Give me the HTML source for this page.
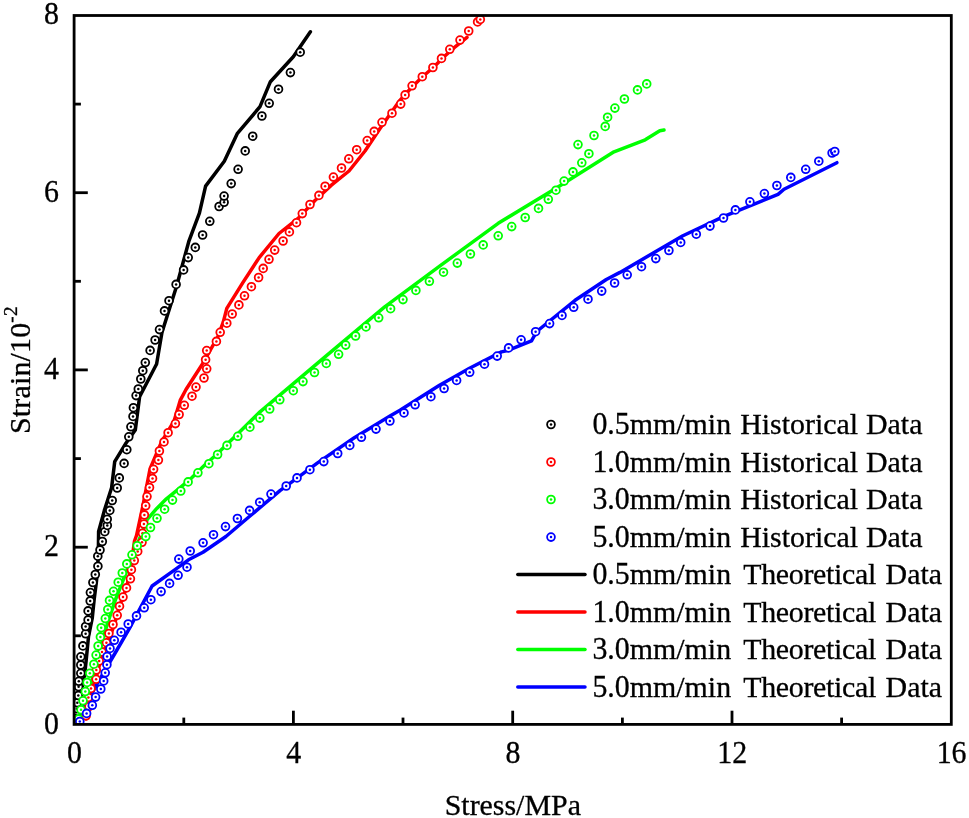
<!DOCTYPE html>
<html><head><meta charset="utf-8"><title>Stress-Strain</title>
<style>
html,body{margin:0;padding:0;background:#fff;}
body{width:969px;height:818px;overflow:hidden;font-family:"Liberation Serif",serif;}
svg{display:block;will-change:transform;}
</style></head><body>
<svg width="969" height="818" viewBox="0 0 969 818">
<rect x="0" y="0" width="969" height="818" fill="#ffffff"/>
<defs><clipPath id="pc"><rect x="74.1" y="15.5" width="877.2" height="708.9"/></clipPath></defs>
<g clip-path="url(#pc)">
<polyline points="76.5,722.0 80.0,700.0 84.8,673.3 86.1,661.1 88.5,636.7 92.3,617.8 94.1,600.0 96.5,581.1 98.3,556.7 98.6,531.5 104.3,510.6 111.6,487.7 114.7,461.7 126.1,443.0 135.3,430.0 139.6,396.7 156.6,364.0 162.0,332.3 176.5,286.5 189.0,240.8 199.4,213.2 205.6,186.1 224.3,161.2 237.2,133.7 260.0,106.7 270.4,81.7 293.3,56.8 310.4,31.8" fill="none" stroke="#000000" stroke-width="3.5" stroke-linejoin="round" stroke-linecap="round"/>
<polyline points="86.0,719.0 89.0,706.0 91.5,688.0 96.2,677.0 100.5,661.1 104.2,651.5 108.5,640.5 114.5,624.4 119.5,606.2 126.5,587.7 130.5,570.0 134.5,541.0 136.5,535.5 142.8,506.4 150.0,469.0 161.5,442.0 174.0,421.2 180.2,400.4 186.0,389.5 201.5,365.5 218.1,336.4 223.3,321.9 226.8,308.4 243.0,282.4 259.2,257.6 279.0,233.5 298.1,218.4 314.7,200.7 331.4,185.1 349.0,171.0 365.0,151.0 380.0,128.5 399.0,101.5 412.0,87.0 422.5,76.8 433.5,67.3 445.4,55.5 454.2,47.6 467.0,37.3" fill="none" stroke="#ff0000" stroke-width="3.5" stroke-linejoin="round" stroke-linecap="round"/>
<polyline points="75.0,723.0 84.0,705.0 92.0,680.0 100.0,650.0 107.0,625.0 115.7,599.0 132.2,557.0 147.3,519.3 156.8,508.4 166.4,498.8 175.0,491.8 189.2,480.2 205.8,464.0 216.0,455.0 236.5,435.0 260.0,411.8 326.5,355.6 384.7,306.8 440.0,265.9 498.2,223.3 556.4,188.0 614.0,151.8 645.2,139.8 659.8,130.7 664.0,130.0" fill="none" stroke="#00ff00" stroke-width="3.5" stroke-linejoin="round" stroke-linecap="round"/>
<polyline points="75.0,724.0 96.4,685.2 116.9,650.0 129.3,628.6 152.1,586.0 174.0,570.4 188.5,559.8 203.0,552.2 225.9,536.5 250.0,516.0 280.0,490.6 297.0,478.1 317.2,463.1 354.3,437.7 390.0,416.0 400.0,410.2 415.0,400.8 439.5,385.2 470.0,368.0 501.5,351.9 508.6,350.2 531.5,340.8 536.7,331.5 575.1,300.3 606.3,279.5 620.0,272.4 682.4,236.0 724.0,216.3 778.0,194.4 784.0,189.2 836.9,162.7" fill="none" stroke="#0000ff" stroke-width="3.5" stroke-linejoin="round" stroke-linecap="round"/>
<g stroke="#000000" stroke-width="1.8" fill="#fff">
<circle cx="75.5" cy="720.0" r="3.9"/>
<circle cx="76.0" cy="715.0" r="3.9"/>
<circle cx="76.8" cy="708.7" r="3.9"/>
<circle cx="77.3" cy="702.8" r="3.9"/>
<circle cx="78.3" cy="695.5" r="3.9"/>
<circle cx="78.6" cy="686.7" r="3.9"/>
<circle cx="78.8" cy="681.3" r="3.9"/>
<circle cx="80.8" cy="673.3" r="3.9"/>
<circle cx="80.8" cy="665.0" r="3.9"/>
<circle cx="80.8" cy="656.8" r="3.9"/>
<circle cx="82.9" cy="645.9" r="3.9"/>
<circle cx="85.6" cy="633.8" r="3.9"/>
<circle cx="85.6" cy="626.5" r="3.9"/>
<circle cx="88.1" cy="619.9" r="3.9"/>
<circle cx="88.1" cy="610.9" r="3.9"/>
<circle cx="90.2" cy="601.0" r="3.9"/>
<circle cx="90.4" cy="592.6" r="3.9"/>
<circle cx="92.9" cy="582.5" r="3.9"/>
<circle cx="95.3" cy="574.5" r="3.9"/>
<circle cx="97.9" cy="566.2" r="3.9"/>
<circle cx="97.8" cy="556.2" r="3.9"/>
<circle cx="100.0" cy="550.0" r="3.9"/>
<circle cx="102.3" cy="541.5" r="3.9"/>
<circle cx="104.8" cy="531.7" r="3.9"/>
<circle cx="107.3" cy="525.4" r="3.9"/>
<circle cx="107.2" cy="519.2" r="3.9"/>
<circle cx="109.8" cy="510.4" r="3.9"/>
<circle cx="112.2" cy="500.5" r="3.9"/>
<circle cx="117.2" cy="488.0" r="3.9"/>
<circle cx="119.3" cy="477.9" r="3.9"/>
<circle cx="124.1" cy="463.4" r="3.9"/>
<circle cx="126.8" cy="449.7" r="3.9"/>
<circle cx="128.8" cy="436.8" r="3.9"/>
<circle cx="130.9" cy="426.8" r="3.9"/>
<circle cx="133.0" cy="416.4" r="3.9"/>
<circle cx="133.4" cy="407.7" r="3.9"/>
<circle cx="136.1" cy="395.6" r="3.9"/>
<circle cx="138.3" cy="389.0" r="3.9"/>
<circle cx="140.8" cy="379.0" r="3.9"/>
<circle cx="142.8" cy="370.7" r="3.9"/>
<circle cx="145.3" cy="362.6" r="3.9"/>
<circle cx="150.1" cy="350.4" r="3.9"/>
<circle cx="155.1" cy="340.0" r="3.9"/>
<circle cx="159.5" cy="329.6" r="3.9"/>
<circle cx="164.5" cy="310.9" r="3.9"/>
<circle cx="169.0" cy="300.7" r="3.9"/>
<circle cx="176.1" cy="284.4" r="3.9"/>
<circle cx="183.6" cy="269.9" r="3.9"/>
<circle cx="188.2" cy="257.6" r="3.9"/>
<circle cx="195.3" cy="247.4" r="3.9"/>
<circle cx="202.6" cy="235.0" r="3.9"/>
<circle cx="209.8" cy="221.3" r="3.9"/>
<circle cx="219.1" cy="206.5" r="3.9"/>
<circle cx="224.1" cy="202.3" r="3.9"/>
<circle cx="224.1" cy="196.1" r="3.9"/>
<circle cx="231.2" cy="183.6" r="3.9"/>
<circle cx="238.1" cy="169.3" r="3.9"/>
<circle cx="245.2" cy="150.9" r="3.9"/>
<circle cx="252.7" cy="136.2" r="3.9"/>
<circle cx="261.9" cy="116.0" r="3.9"/>
<circle cx="269.2" cy="103.3" r="3.9"/>
<circle cx="278.5" cy="89.2" r="3.9"/>
<circle cx="290.4" cy="72.6" r="3.9"/>
<circle cx="300.2" cy="52.2" r="3.9"/>
</g>
<g fill="#000000">
<circle cx="75.5" cy="720.0" r="1.25"/>
<circle cx="76.0" cy="715.0" r="1.25"/>
<circle cx="76.8" cy="708.7" r="1.25"/>
<circle cx="77.3" cy="702.8" r="1.25"/>
<circle cx="78.3" cy="695.5" r="1.25"/>
<circle cx="78.6" cy="686.7" r="1.25"/>
<circle cx="78.8" cy="681.3" r="1.25"/>
<circle cx="80.8" cy="673.3" r="1.25"/>
<circle cx="80.8" cy="665.0" r="1.25"/>
<circle cx="80.8" cy="656.8" r="1.25"/>
<circle cx="82.9" cy="645.9" r="1.25"/>
<circle cx="85.6" cy="633.8" r="1.25"/>
<circle cx="85.6" cy="626.5" r="1.25"/>
<circle cx="88.1" cy="619.9" r="1.25"/>
<circle cx="88.1" cy="610.9" r="1.25"/>
<circle cx="90.2" cy="601.0" r="1.25"/>
<circle cx="90.4" cy="592.6" r="1.25"/>
<circle cx="92.9" cy="582.5" r="1.25"/>
<circle cx="95.3" cy="574.5" r="1.25"/>
<circle cx="97.9" cy="566.2" r="1.25"/>
<circle cx="97.8" cy="556.2" r="1.25"/>
<circle cx="100.0" cy="550.0" r="1.25"/>
<circle cx="102.3" cy="541.5" r="1.25"/>
<circle cx="104.8" cy="531.7" r="1.25"/>
<circle cx="107.3" cy="525.4" r="1.25"/>
<circle cx="107.2" cy="519.2" r="1.25"/>
<circle cx="109.8" cy="510.4" r="1.25"/>
<circle cx="112.2" cy="500.5" r="1.25"/>
<circle cx="117.2" cy="488.0" r="1.25"/>
<circle cx="119.3" cy="477.9" r="1.25"/>
<circle cx="124.1" cy="463.4" r="1.25"/>
<circle cx="126.8" cy="449.7" r="1.25"/>
<circle cx="128.8" cy="436.8" r="1.25"/>
<circle cx="130.9" cy="426.8" r="1.25"/>
<circle cx="133.0" cy="416.4" r="1.25"/>
<circle cx="133.4" cy="407.7" r="1.25"/>
<circle cx="136.1" cy="395.6" r="1.25"/>
<circle cx="138.3" cy="389.0" r="1.25"/>
<circle cx="140.8" cy="379.0" r="1.25"/>
<circle cx="142.8" cy="370.7" r="1.25"/>
<circle cx="145.3" cy="362.6" r="1.25"/>
<circle cx="150.1" cy="350.4" r="1.25"/>
<circle cx="155.1" cy="340.0" r="1.25"/>
<circle cx="159.5" cy="329.6" r="1.25"/>
<circle cx="164.5" cy="310.9" r="1.25"/>
<circle cx="169.0" cy="300.7" r="1.25"/>
<circle cx="176.1" cy="284.4" r="1.25"/>
<circle cx="183.6" cy="269.9" r="1.25"/>
<circle cx="188.2" cy="257.6" r="1.25"/>
<circle cx="195.3" cy="247.4" r="1.25"/>
<circle cx="202.6" cy="235.0" r="1.25"/>
<circle cx="209.8" cy="221.3" r="1.25"/>
<circle cx="219.1" cy="206.5" r="1.25"/>
<circle cx="224.1" cy="202.3" r="1.25"/>
<circle cx="224.1" cy="196.1" r="1.25"/>
<circle cx="231.2" cy="183.6" r="1.25"/>
<circle cx="238.1" cy="169.3" r="1.25"/>
<circle cx="245.2" cy="150.9" r="1.25"/>
<circle cx="252.7" cy="136.2" r="1.25"/>
<circle cx="261.9" cy="116.0" r="1.25"/>
<circle cx="269.2" cy="103.3" r="1.25"/>
<circle cx="278.5" cy="89.2" r="1.25"/>
<circle cx="290.4" cy="72.6" r="1.25"/>
<circle cx="300.2" cy="52.2" r="1.25"/>
</g>
<g stroke="#ff0000" stroke-width="1.8" fill="#fff">
<circle cx="86.1" cy="715.8" r="3.9"/>
<circle cx="89.0" cy="706.6" r="3.9"/>
<circle cx="88.4" cy="697.5" r="3.9"/>
<circle cx="91.0" cy="688.4" r="3.9"/>
<circle cx="96.1" cy="679.2" r="3.9"/>
<circle cx="96.3" cy="670.1" r="3.9"/>
<circle cx="99.2" cy="661.0" r="3.9"/>
<circle cx="102.0" cy="651.9" r="3.9"/>
<circle cx="106.4" cy="642.7" r="3.9"/>
<circle cx="108.9" cy="633.6" r="3.9"/>
<circle cx="113.0" cy="624.5" r="3.9"/>
<circle cx="117.2" cy="615.3" r="3.9"/>
<circle cx="119.5" cy="606.2" r="3.9"/>
<circle cx="123.0" cy="597.1" r="3.9"/>
<circle cx="126.5" cy="587.9" r="3.9"/>
<circle cx="130.4" cy="578.8" r="3.9"/>
<circle cx="131.4" cy="569.7" r="3.9"/>
<circle cx="134.3" cy="560.6" r="3.9"/>
<circle cx="137.7" cy="551.4" r="3.9"/>
<circle cx="142.0" cy="542.3" r="3.9"/>
<circle cx="142.5" cy="533.2" r="3.9"/>
<circle cx="143.9" cy="524.0" r="3.9"/>
<circle cx="144.4" cy="514.9" r="3.9"/>
<circle cx="145.7" cy="505.8" r="3.9"/>
<circle cx="147.0" cy="496.6" r="3.9"/>
<circle cx="149.5" cy="487.5" r="3.9"/>
<circle cx="152.5" cy="478.4" r="3.9"/>
<circle cx="153.6" cy="469.3" r="3.9"/>
<circle cx="158.4" cy="460.1" r="3.9"/>
<circle cx="159.4" cy="451.0" r="3.9"/>
<circle cx="164.0" cy="441.9" r="3.9"/>
<circle cx="168.1" cy="432.7" r="3.9"/>
<circle cx="175.4" cy="423.6" r="3.9"/>
<circle cx="179.1" cy="414.5" r="3.9"/>
<circle cx="184.3" cy="405.3" r="3.9"/>
<circle cx="192.0" cy="396.2" r="3.9"/>
<circle cx="196.0" cy="387.1" r="3.9"/>
<circle cx="204.0" cy="378.0" r="3.9"/>
<circle cx="206.7" cy="368.8" r="3.9"/>
<circle cx="205.6" cy="359.7" r="3.9"/>
<circle cx="206.7" cy="350.6" r="3.9"/>
<circle cx="216.4" cy="341.4" r="3.9"/>
<circle cx="220.2" cy="332.3" r="3.9"/>
<circle cx="226.8" cy="323.2" r="3.9"/>
<circle cx="232.2" cy="314.0" r="3.9"/>
<circle cx="238.9" cy="304.9" r="3.9"/>
<circle cx="244.5" cy="295.8" r="3.9"/>
<circle cx="251.4" cy="286.7" r="3.9"/>
<circle cx="258.6" cy="277.5" r="3.9"/>
<circle cx="263.2" cy="268.4" r="3.9"/>
<circle cx="269.0" cy="259.3" r="3.9"/>
<circle cx="274.7" cy="250.1" r="3.9"/>
<circle cx="283.1" cy="241.0" r="3.9"/>
<circle cx="289.4" cy="231.9" r="3.9"/>
<circle cx="296.5" cy="222.7" r="3.9"/>
<circle cx="302.3" cy="213.6" r="3.9"/>
<circle cx="310.0" cy="204.5" r="3.9"/>
<circle cx="318.9" cy="195.4" r="3.9"/>
<circle cx="325.1" cy="186.2" r="3.9"/>
<circle cx="333.4" cy="177.1" r="3.9"/>
<circle cx="341.5" cy="168.0" r="3.9"/>
<circle cx="348.8" cy="158.8" r="3.9"/>
<circle cx="356.7" cy="149.7" r="3.9"/>
<circle cx="367.2" cy="140.6" r="3.9"/>
<circle cx="374.2" cy="131.4" r="3.9"/>
<circle cx="382.0" cy="122.3" r="3.9"/>
<circle cx="392.0" cy="113.2" r="3.9"/>
<circle cx="400.7" cy="104.1" r="3.9"/>
<circle cx="405.1" cy="94.9" r="3.9"/>
<circle cx="412.1" cy="85.8" r="3.9"/>
<circle cx="422.3" cy="76.7" r="3.9"/>
<circle cx="432.9" cy="67.5" r="3.9"/>
<circle cx="441.5" cy="58.4" r="3.9"/>
<circle cx="449.8" cy="49.3" r="3.9"/>
<circle cx="460.0" cy="40.1" r="3.9"/>
<circle cx="468.7" cy="31.0" r="3.9"/>
<circle cx="477.6" cy="21.9" r="3.9"/>
<circle cx="480.3" cy="19.4" r="3.9"/>
</g>
<g fill="#ff0000">
<circle cx="86.1" cy="715.8" r="1.25"/>
<circle cx="89.0" cy="706.6" r="1.25"/>
<circle cx="88.4" cy="697.5" r="1.25"/>
<circle cx="91.0" cy="688.4" r="1.25"/>
<circle cx="96.1" cy="679.2" r="1.25"/>
<circle cx="96.3" cy="670.1" r="1.25"/>
<circle cx="99.2" cy="661.0" r="1.25"/>
<circle cx="102.0" cy="651.9" r="1.25"/>
<circle cx="106.4" cy="642.7" r="1.25"/>
<circle cx="108.9" cy="633.6" r="1.25"/>
<circle cx="113.0" cy="624.5" r="1.25"/>
<circle cx="117.2" cy="615.3" r="1.25"/>
<circle cx="119.5" cy="606.2" r="1.25"/>
<circle cx="123.0" cy="597.1" r="1.25"/>
<circle cx="126.5" cy="587.9" r="1.25"/>
<circle cx="130.4" cy="578.8" r="1.25"/>
<circle cx="131.4" cy="569.7" r="1.25"/>
<circle cx="134.3" cy="560.6" r="1.25"/>
<circle cx="137.7" cy="551.4" r="1.25"/>
<circle cx="142.0" cy="542.3" r="1.25"/>
<circle cx="142.5" cy="533.2" r="1.25"/>
<circle cx="143.9" cy="524.0" r="1.25"/>
<circle cx="144.4" cy="514.9" r="1.25"/>
<circle cx="145.7" cy="505.8" r="1.25"/>
<circle cx="147.0" cy="496.6" r="1.25"/>
<circle cx="149.5" cy="487.5" r="1.25"/>
<circle cx="152.5" cy="478.4" r="1.25"/>
<circle cx="153.6" cy="469.3" r="1.25"/>
<circle cx="158.4" cy="460.1" r="1.25"/>
<circle cx="159.4" cy="451.0" r="1.25"/>
<circle cx="164.0" cy="441.9" r="1.25"/>
<circle cx="168.1" cy="432.7" r="1.25"/>
<circle cx="175.4" cy="423.6" r="1.25"/>
<circle cx="179.1" cy="414.5" r="1.25"/>
<circle cx="184.3" cy="405.3" r="1.25"/>
<circle cx="192.0" cy="396.2" r="1.25"/>
<circle cx="196.0" cy="387.1" r="1.25"/>
<circle cx="204.0" cy="378.0" r="1.25"/>
<circle cx="206.7" cy="368.8" r="1.25"/>
<circle cx="205.6" cy="359.7" r="1.25"/>
<circle cx="206.7" cy="350.6" r="1.25"/>
<circle cx="216.4" cy="341.4" r="1.25"/>
<circle cx="220.2" cy="332.3" r="1.25"/>
<circle cx="226.8" cy="323.2" r="1.25"/>
<circle cx="232.2" cy="314.0" r="1.25"/>
<circle cx="238.9" cy="304.9" r="1.25"/>
<circle cx="244.5" cy="295.8" r="1.25"/>
<circle cx="251.4" cy="286.7" r="1.25"/>
<circle cx="258.6" cy="277.5" r="1.25"/>
<circle cx="263.2" cy="268.4" r="1.25"/>
<circle cx="269.0" cy="259.3" r="1.25"/>
<circle cx="274.7" cy="250.1" r="1.25"/>
<circle cx="283.1" cy="241.0" r="1.25"/>
<circle cx="289.4" cy="231.9" r="1.25"/>
<circle cx="296.5" cy="222.7" r="1.25"/>
<circle cx="302.3" cy="213.6" r="1.25"/>
<circle cx="310.0" cy="204.5" r="1.25"/>
<circle cx="318.9" cy="195.4" r="1.25"/>
<circle cx="325.1" cy="186.2" r="1.25"/>
<circle cx="333.4" cy="177.1" r="1.25"/>
<circle cx="341.5" cy="168.0" r="1.25"/>
<circle cx="348.8" cy="158.8" r="1.25"/>
<circle cx="356.7" cy="149.7" r="1.25"/>
<circle cx="367.2" cy="140.6" r="1.25"/>
<circle cx="374.2" cy="131.4" r="1.25"/>
<circle cx="382.0" cy="122.3" r="1.25"/>
<circle cx="392.0" cy="113.2" r="1.25"/>
<circle cx="400.7" cy="104.1" r="1.25"/>
<circle cx="405.1" cy="94.9" r="1.25"/>
<circle cx="412.1" cy="85.8" r="1.25"/>
<circle cx="422.3" cy="76.7" r="1.25"/>
<circle cx="432.9" cy="67.5" r="1.25"/>
<circle cx="441.5" cy="58.4" r="1.25"/>
<circle cx="449.8" cy="49.3" r="1.25"/>
<circle cx="460.0" cy="40.1" r="1.25"/>
<circle cx="468.7" cy="31.0" r="1.25"/>
<circle cx="477.6" cy="21.9" r="1.25"/>
<circle cx="480.3" cy="19.4" r="1.25"/>
</g>
<g stroke="#00ff00" stroke-width="1.8" fill="#fff">
<circle cx="78.5" cy="718.9" r="3.9"/>
<circle cx="81.0" cy="709.8" r="3.9"/>
<circle cx="83.0" cy="700.7" r="3.9"/>
<circle cx="85.3" cy="691.6" r="3.9"/>
<circle cx="87.1" cy="682.4" r="3.9"/>
<circle cx="89.8" cy="673.3" r="3.9"/>
<circle cx="93.9" cy="664.2" r="3.9"/>
<circle cx="96.1" cy="655.1" r="3.9"/>
<circle cx="98.1" cy="646.0" r="3.9"/>
<circle cx="100.4" cy="636.9" r="3.9"/>
<circle cx="101.2" cy="627.7" r="3.9"/>
<circle cx="105.3" cy="618.6" r="3.9"/>
<circle cx="107.8" cy="609.5" r="3.9"/>
<circle cx="109.5" cy="600.4" r="3.9"/>
<circle cx="113.5" cy="591.3" r="3.9"/>
<circle cx="118.2" cy="582.2" r="3.9"/>
<circle cx="122.3" cy="573.0" r="3.9"/>
<circle cx="126.8" cy="563.9" r="3.9"/>
<circle cx="132.0" cy="554.8" r="3.9"/>
<circle cx="137.2" cy="545.7" r="3.9"/>
<circle cx="145.8" cy="536.6" r="3.9"/>
<circle cx="150.5" cy="527.5" r="3.9"/>
<circle cx="157.0" cy="518.3" r="3.9"/>
<circle cx="164.6" cy="509.2" r="3.9"/>
<circle cx="172.5" cy="500.1" r="3.9"/>
<circle cx="180.8" cy="491.0" r="3.9"/>
<circle cx="188.1" cy="481.9" r="3.9"/>
<circle cx="197.9" cy="472.8" r="3.9"/>
<circle cx="208.9" cy="463.7" r="3.9"/>
<circle cx="217.6" cy="454.5" r="3.9"/>
<circle cx="227.0" cy="445.4" r="3.9"/>
<circle cx="237.8" cy="436.3" r="3.9"/>
<circle cx="249.9" cy="427.2" r="3.9"/>
<circle cx="259.8" cy="418.1" r="3.9"/>
<circle cx="269.7" cy="409.0" r="3.9"/>
<circle cx="279.8" cy="399.8" r="3.9"/>
<circle cx="293.3" cy="390.7" r="3.9"/>
<circle cx="303.0" cy="381.6" r="3.9"/>
<circle cx="314.5" cy="372.5" r="3.9"/>
<circle cx="326.3" cy="363.4" r="3.9"/>
<circle cx="338.6" cy="354.3" r="3.9"/>
<circle cx="345.7" cy="345.1" r="3.9"/>
<circle cx="355.6" cy="336.0" r="3.9"/>
<circle cx="366.0" cy="326.9" r="3.9"/>
<circle cx="378.7" cy="317.8" r="3.9"/>
<circle cx="390.6" cy="308.7" r="3.9"/>
<circle cx="403.0" cy="299.6" r="3.9"/>
<circle cx="415.9" cy="290.4" r="3.9"/>
<circle cx="429.4" cy="281.3" r="3.9"/>
<circle cx="443.5" cy="272.2" r="3.9"/>
<circle cx="457.3" cy="263.1" r="3.9"/>
<circle cx="470.4" cy="254.0" r="3.9"/>
<circle cx="483.2" cy="244.9" r="3.9"/>
<circle cx="498.2" cy="235.8" r="3.9"/>
<circle cx="511.7" cy="226.6" r="3.9"/>
<circle cx="525.2" cy="217.5" r="3.9"/>
<circle cx="538.5" cy="208.4" r="3.9"/>
<circle cx="548.3" cy="199.3" r="3.9"/>
<circle cx="556.0" cy="190.2" r="3.9"/>
<circle cx="564.1" cy="181.1" r="3.9"/>
<circle cx="573.0" cy="171.9" r="3.9"/>
<circle cx="581.8" cy="162.8" r="3.9"/>
<circle cx="588.9" cy="153.7" r="3.9"/>
<circle cx="578.0" cy="144.6" r="3.9"/>
<circle cx="594.0" cy="135.5" r="3.9"/>
<circle cx="605.2" cy="126.4" r="3.9"/>
<circle cx="607.6" cy="117.2" r="3.9"/>
<circle cx="614.9" cy="108.1" r="3.9"/>
<circle cx="624.4" cy="99.0" r="3.9"/>
<circle cx="637.5" cy="89.9" r="3.9"/>
<circle cx="646.7" cy="83.9" r="3.9"/>
</g>
<g fill="#00ff00">
<circle cx="78.5" cy="718.9" r="1.25"/>
<circle cx="81.0" cy="709.8" r="1.25"/>
<circle cx="83.0" cy="700.7" r="1.25"/>
<circle cx="85.3" cy="691.6" r="1.25"/>
<circle cx="87.1" cy="682.4" r="1.25"/>
<circle cx="89.8" cy="673.3" r="1.25"/>
<circle cx="93.9" cy="664.2" r="1.25"/>
<circle cx="96.1" cy="655.1" r="1.25"/>
<circle cx="98.1" cy="646.0" r="1.25"/>
<circle cx="100.4" cy="636.9" r="1.25"/>
<circle cx="101.2" cy="627.7" r="1.25"/>
<circle cx="105.3" cy="618.6" r="1.25"/>
<circle cx="107.8" cy="609.5" r="1.25"/>
<circle cx="109.5" cy="600.4" r="1.25"/>
<circle cx="113.5" cy="591.3" r="1.25"/>
<circle cx="118.2" cy="582.2" r="1.25"/>
<circle cx="122.3" cy="573.0" r="1.25"/>
<circle cx="126.8" cy="563.9" r="1.25"/>
<circle cx="132.0" cy="554.8" r="1.25"/>
<circle cx="137.2" cy="545.7" r="1.25"/>
<circle cx="145.8" cy="536.6" r="1.25"/>
<circle cx="150.5" cy="527.5" r="1.25"/>
<circle cx="157.0" cy="518.3" r="1.25"/>
<circle cx="164.6" cy="509.2" r="1.25"/>
<circle cx="172.5" cy="500.1" r="1.25"/>
<circle cx="180.8" cy="491.0" r="1.25"/>
<circle cx="188.1" cy="481.9" r="1.25"/>
<circle cx="197.9" cy="472.8" r="1.25"/>
<circle cx="208.9" cy="463.7" r="1.25"/>
<circle cx="217.6" cy="454.5" r="1.25"/>
<circle cx="227.0" cy="445.4" r="1.25"/>
<circle cx="237.8" cy="436.3" r="1.25"/>
<circle cx="249.9" cy="427.2" r="1.25"/>
<circle cx="259.8" cy="418.1" r="1.25"/>
<circle cx="269.7" cy="409.0" r="1.25"/>
<circle cx="279.8" cy="399.8" r="1.25"/>
<circle cx="293.3" cy="390.7" r="1.25"/>
<circle cx="303.0" cy="381.6" r="1.25"/>
<circle cx="314.5" cy="372.5" r="1.25"/>
<circle cx="326.3" cy="363.4" r="1.25"/>
<circle cx="338.6" cy="354.3" r="1.25"/>
<circle cx="345.7" cy="345.1" r="1.25"/>
<circle cx="355.6" cy="336.0" r="1.25"/>
<circle cx="366.0" cy="326.9" r="1.25"/>
<circle cx="378.7" cy="317.8" r="1.25"/>
<circle cx="390.6" cy="308.7" r="1.25"/>
<circle cx="403.0" cy="299.6" r="1.25"/>
<circle cx="415.9" cy="290.4" r="1.25"/>
<circle cx="429.4" cy="281.3" r="1.25"/>
<circle cx="443.5" cy="272.2" r="1.25"/>
<circle cx="457.3" cy="263.1" r="1.25"/>
<circle cx="470.4" cy="254.0" r="1.25"/>
<circle cx="483.2" cy="244.9" r="1.25"/>
<circle cx="498.2" cy="235.8" r="1.25"/>
<circle cx="511.7" cy="226.6" r="1.25"/>
<circle cx="525.2" cy="217.5" r="1.25"/>
<circle cx="538.5" cy="208.4" r="1.25"/>
<circle cx="548.3" cy="199.3" r="1.25"/>
<circle cx="556.0" cy="190.2" r="1.25"/>
<circle cx="564.1" cy="181.1" r="1.25"/>
<circle cx="573.0" cy="171.9" r="1.25"/>
<circle cx="581.8" cy="162.8" r="1.25"/>
<circle cx="588.9" cy="153.7" r="1.25"/>
<circle cx="578.0" cy="144.6" r="1.25"/>
<circle cx="594.0" cy="135.5" r="1.25"/>
<circle cx="605.2" cy="126.4" r="1.25"/>
<circle cx="607.6" cy="117.2" r="1.25"/>
<circle cx="614.9" cy="108.1" r="1.25"/>
<circle cx="624.4" cy="99.0" r="1.25"/>
<circle cx="637.5" cy="89.9" r="1.25"/>
<circle cx="646.7" cy="83.9" r="1.25"/>
</g>
<g stroke="#0000ff" stroke-width="1.8" fill="#fff">
<circle cx="79.8" cy="721.5" r="3.9"/>
<circle cx="86.6" cy="713.4" r="3.9"/>
<circle cx="92.3" cy="705.3" r="3.9"/>
<circle cx="95.6" cy="697.1" r="3.9"/>
<circle cx="100.8" cy="689.0" r="3.9"/>
<circle cx="103.7" cy="680.9" r="3.9"/>
<circle cx="105.2" cy="672.8" r="3.9"/>
<circle cx="106.9" cy="664.7" r="3.9"/>
<circle cx="107.1" cy="656.5" r="3.9"/>
<circle cx="110.0" cy="648.4" r="3.9"/>
<circle cx="114.3" cy="640.3" r="3.9"/>
<circle cx="121.1" cy="632.2" r="3.9"/>
<circle cx="128.2" cy="624.0" r="3.9"/>
<circle cx="136.5" cy="615.9" r="3.9"/>
<circle cx="144.2" cy="607.8" r="3.9"/>
<circle cx="150.9" cy="599.7" r="3.9"/>
<circle cx="161.1" cy="591.6" r="3.9"/>
<circle cx="169.6" cy="583.4" r="3.9"/>
<circle cx="178.1" cy="575.3" r="3.9"/>
<circle cx="187.0" cy="567.2" r="3.9"/>
<circle cx="178.8" cy="559.1" r="3.9"/>
<circle cx="190.2" cy="551.0" r="3.9"/>
<circle cx="203.1" cy="542.8" r="3.9"/>
<circle cx="213.5" cy="534.7" r="3.9"/>
<circle cx="225.5" cy="526.6" r="3.9"/>
<circle cx="237.4" cy="518.5" r="3.9"/>
<circle cx="249.6" cy="510.4" r="3.9"/>
<circle cx="259.7" cy="502.2" r="3.9"/>
<circle cx="271.0" cy="494.1" r="3.9"/>
<circle cx="286.2" cy="486.0" r="3.9"/>
<circle cx="297.0" cy="477.9" r="3.9"/>
<circle cx="309.9" cy="469.7" r="3.9"/>
<circle cx="323.8" cy="461.6" r="3.9"/>
<circle cx="337.7" cy="453.5" r="3.9"/>
<circle cx="349.8" cy="445.4" r="3.9"/>
<circle cx="361.4" cy="437.3" r="3.9"/>
<circle cx="376.0" cy="429.1" r="3.9"/>
<circle cx="389.9" cy="421.0" r="3.9"/>
<circle cx="404.0" cy="412.9" r="3.9"/>
<circle cx="415.1" cy="404.8" r="3.9"/>
<circle cx="430.9" cy="396.7" r="3.9"/>
<circle cx="444.1" cy="388.5" r="3.9"/>
<circle cx="456.6" cy="380.4" r="3.9"/>
<circle cx="469.7" cy="372.3" r="3.9"/>
<circle cx="484.5" cy="364.2" r="3.9"/>
<circle cx="497.2" cy="356.1" r="3.9"/>
<circle cx="508.6" cy="347.9" r="3.9"/>
<circle cx="521.1" cy="339.8" r="3.9"/>
<circle cx="535.6" cy="331.7" r="3.9"/>
<circle cx="549.6" cy="323.6" r="3.9"/>
<circle cx="562.0" cy="315.4" r="3.9"/>
<circle cx="573.7" cy="307.3" r="3.9"/>
<circle cx="588.0" cy="299.2" r="3.9"/>
<circle cx="601.7" cy="291.1" r="3.9"/>
<circle cx="614.6" cy="283.0" r="3.9"/>
<circle cx="627.2" cy="274.8" r="3.9"/>
<circle cx="641.5" cy="266.7" r="3.9"/>
<circle cx="655.8" cy="258.6" r="3.9"/>
<circle cx="668.9" cy="250.5" r="3.9"/>
<circle cx="680.7" cy="242.4" r="3.9"/>
<circle cx="696.3" cy="234.2" r="3.9"/>
<circle cx="710.0" cy="226.1" r="3.9"/>
<circle cx="723.5" cy="218.0" r="3.9"/>
<circle cx="735.4" cy="209.9" r="3.9"/>
<circle cx="749.9" cy="201.8" r="3.9"/>
<circle cx="764.4" cy="193.6" r="3.9"/>
<circle cx="776.9" cy="185.5" r="3.9"/>
<circle cx="790.8" cy="177.4" r="3.9"/>
<circle cx="805.7" cy="169.3" r="3.9"/>
<circle cx="818.8" cy="161.2" r="3.9"/>
<circle cx="832.1" cy="153.0" r="3.9"/>
<circle cx="834.8" cy="151.5" r="3.9"/>
</g>
<g fill="#0000ff">
<circle cx="79.8" cy="721.5" r="1.25"/>
<circle cx="86.6" cy="713.4" r="1.25"/>
<circle cx="92.3" cy="705.3" r="1.25"/>
<circle cx="95.6" cy="697.1" r="1.25"/>
<circle cx="100.8" cy="689.0" r="1.25"/>
<circle cx="103.7" cy="680.9" r="1.25"/>
<circle cx="105.2" cy="672.8" r="1.25"/>
<circle cx="106.9" cy="664.7" r="1.25"/>
<circle cx="107.1" cy="656.5" r="1.25"/>
<circle cx="110.0" cy="648.4" r="1.25"/>
<circle cx="114.3" cy="640.3" r="1.25"/>
<circle cx="121.1" cy="632.2" r="1.25"/>
<circle cx="128.2" cy="624.0" r="1.25"/>
<circle cx="136.5" cy="615.9" r="1.25"/>
<circle cx="144.2" cy="607.8" r="1.25"/>
<circle cx="150.9" cy="599.7" r="1.25"/>
<circle cx="161.1" cy="591.6" r="1.25"/>
<circle cx="169.6" cy="583.4" r="1.25"/>
<circle cx="178.1" cy="575.3" r="1.25"/>
<circle cx="187.0" cy="567.2" r="1.25"/>
<circle cx="178.8" cy="559.1" r="1.25"/>
<circle cx="190.2" cy="551.0" r="1.25"/>
<circle cx="203.1" cy="542.8" r="1.25"/>
<circle cx="213.5" cy="534.7" r="1.25"/>
<circle cx="225.5" cy="526.6" r="1.25"/>
<circle cx="237.4" cy="518.5" r="1.25"/>
<circle cx="249.6" cy="510.4" r="1.25"/>
<circle cx="259.7" cy="502.2" r="1.25"/>
<circle cx="271.0" cy="494.1" r="1.25"/>
<circle cx="286.2" cy="486.0" r="1.25"/>
<circle cx="297.0" cy="477.9" r="1.25"/>
<circle cx="309.9" cy="469.7" r="1.25"/>
<circle cx="323.8" cy="461.6" r="1.25"/>
<circle cx="337.7" cy="453.5" r="1.25"/>
<circle cx="349.8" cy="445.4" r="1.25"/>
<circle cx="361.4" cy="437.3" r="1.25"/>
<circle cx="376.0" cy="429.1" r="1.25"/>
<circle cx="389.9" cy="421.0" r="1.25"/>
<circle cx="404.0" cy="412.9" r="1.25"/>
<circle cx="415.1" cy="404.8" r="1.25"/>
<circle cx="430.9" cy="396.7" r="1.25"/>
<circle cx="444.1" cy="388.5" r="1.25"/>
<circle cx="456.6" cy="380.4" r="1.25"/>
<circle cx="469.7" cy="372.3" r="1.25"/>
<circle cx="484.5" cy="364.2" r="1.25"/>
<circle cx="497.2" cy="356.1" r="1.25"/>
<circle cx="508.6" cy="347.9" r="1.25"/>
<circle cx="521.1" cy="339.8" r="1.25"/>
<circle cx="535.6" cy="331.7" r="1.25"/>
<circle cx="549.6" cy="323.6" r="1.25"/>
<circle cx="562.0" cy="315.4" r="1.25"/>
<circle cx="573.7" cy="307.3" r="1.25"/>
<circle cx="588.0" cy="299.2" r="1.25"/>
<circle cx="601.7" cy="291.1" r="1.25"/>
<circle cx="614.6" cy="283.0" r="1.25"/>
<circle cx="627.2" cy="274.8" r="1.25"/>
<circle cx="641.5" cy="266.7" r="1.25"/>
<circle cx="655.8" cy="258.6" r="1.25"/>
<circle cx="668.9" cy="250.5" r="1.25"/>
<circle cx="680.7" cy="242.4" r="1.25"/>
<circle cx="696.3" cy="234.2" r="1.25"/>
<circle cx="710.0" cy="226.1" r="1.25"/>
<circle cx="723.5" cy="218.0" r="1.25"/>
<circle cx="735.4" cy="209.9" r="1.25"/>
<circle cx="749.9" cy="201.8" r="1.25"/>
<circle cx="764.4" cy="193.6" r="1.25"/>
<circle cx="776.9" cy="185.5" r="1.25"/>
<circle cx="790.8" cy="177.4" r="1.25"/>
<circle cx="805.7" cy="169.3" r="1.25"/>
<circle cx="818.8" cy="161.2" r="1.25"/>
<circle cx="832.1" cy="153.0" r="1.25"/>
<circle cx="834.8" cy="151.5" r="1.25"/>
</g>
</g>
<g stroke="#000" stroke-width="2.8" fill="none">
<rect x="74.1" y="15.5" width="877.2" height="708.9"/>
<line x1="183.8" y1="724.4" x2="183.8" y2="717.6"/>
<line x1="293.4" y1="724.4" x2="293.4" y2="710.7"/>
<line x1="403.0" y1="724.4" x2="403.0" y2="717.6"/>
<line x1="512.7" y1="724.4" x2="512.7" y2="710.7"/>
<line x1="622.4" y1="724.4" x2="622.4" y2="717.6"/>
<line x1="732.0" y1="724.4" x2="732.0" y2="710.7"/>
<line x1="841.6" y1="724.4" x2="841.6" y2="717.6"/>
<line x1="74.1" y1="635.8" x2="80.9" y2="635.8"/>
<line x1="74.1" y1="547.2" x2="87.8" y2="547.2"/>
<line x1="74.1" y1="458.6" x2="80.9" y2="458.6"/>
<line x1="74.1" y1="369.9" x2="87.8" y2="369.9"/>
<line x1="74.1" y1="281.3" x2="80.9" y2="281.3"/>
<line x1="74.1" y1="192.7" x2="87.8" y2="192.7"/>
<line x1="74.1" y1="104.1" x2="80.9" y2="104.1"/>
</g>
<g font-family="Liberation Serif, serif" stroke="#000" stroke-width="0.3" font-size="29.9" fill="#000">
<text transform="translate(74.4,762.8) scale(1,1.08)" text-anchor="middle">0</text>
<text transform="translate(293.7,762.8) scale(1,1.08)" text-anchor="middle">4</text>
<text transform="translate(513.0,762.8) scale(1,1.08)" text-anchor="middle">8</text>
<text transform="translate(732.3,762.8) scale(1,1.08)" text-anchor="middle">12</text>
<text transform="translate(951.6,762.8) scale(1,1.08)" text-anchor="middle">16</text>
<text transform="translate(59.0,733.5) scale(1,1.08)" text-anchor="end">0</text>
<text transform="translate(59.0,556.3) scale(1,1.08)" text-anchor="end">2</text>
<text transform="translate(59.0,379.1) scale(1,1.08)" text-anchor="end">4</text>
<text transform="translate(59.0,201.8) scale(1,1.08)" text-anchor="end">6</text>
<text transform="translate(59.0,24.1) scale(1,1.08)" text-anchor="end">8</text>
</g>
<text transform="translate(512.8,815.1) scale(1,1.0)" text-anchor="middle" font-family="Liberation Serif, serif" stroke="#000" stroke-width="0.3" font-size="29.9" fill="#000">Stress/MPa</text>
<text transform="translate(29.9,370.2) rotate(-90) scale(1,1.0)" text-anchor="middle" letter-spacing="0.2" font-family="Liberation Serif, serif" stroke="#000" stroke-width="0.3" font-size="29.9" fill="#000">Strain/10<tspan dy="-13.4" font-size="19.1">-2</tspan></text>
<g font-family="Liberation Serif, serif" stroke="#000" stroke-width="0.3" font-size="29.9" fill="#000">
<text transform="translate(592.4,434.2) scale(1,1.08)">0.5</text>
<text y="434.2"><tspan x="629.8">mm/min</tspan><tspan x="740.2" letter-spacing="0">Historical</tspan><tspan x="866.0">Data</tspan></text>
<text transform="translate(592.4,584.3) scale(1,1.08)">0.5</text>
<text y="584.3"><tspan x="629.8">mm/min</tspan><tspan x="743.2" letter-spacing="-0.3">Theoretical</tspan><tspan x="885.6">Data</tspan></text>
<text transform="translate(592.4,471.7) scale(1,1.08)">1.0</text>
<text y="471.7"><tspan x="629.8">mm/min</tspan><tspan x="740.2" letter-spacing="0">Historical</tspan><tspan x="866.0">Data</tspan></text>
<text transform="translate(592.4,621.8) scale(1,1.08)">1.0</text>
<text y="621.8"><tspan x="629.8">mm/min</tspan><tspan x="743.2" letter-spacing="-0.3">Theoretical</tspan><tspan x="885.6">Data</tspan></text>
<text transform="translate(592.4,509.2) scale(1,1.08)">3.0</text>
<text y="509.2"><tspan x="629.8">mm/min</tspan><tspan x="740.2" letter-spacing="0">Historical</tspan><tspan x="866.0">Data</tspan></text>
<text transform="translate(592.4,659.3) scale(1,1.08)">3.0</text>
<text y="659.3"><tspan x="629.8">mm/min</tspan><tspan x="743.2" letter-spacing="-0.3">Theoretical</tspan><tspan x="885.6">Data</tspan></text>
<text transform="translate(592.4,546.8) scale(1,1.08)">5.0</text>
<text y="546.8"><tspan x="629.8">mm/min</tspan><tspan x="740.2" letter-spacing="0">Historical</tspan><tspan x="866.0">Data</tspan></text>
<text transform="translate(592.4,696.8) scale(1,1.08)">5.0</text>
<text y="696.8"><tspan x="629.8">mm/min</tspan><tspan x="743.2" letter-spacing="-0.3">Theoretical</tspan><tspan x="885.6">Data</tspan></text>
</g>
<circle cx="551" cy="424.5" r="3.9" stroke="#000000" stroke-width="1.8" fill="#fff"/><circle cx="551" cy="424.5" r="1.25" fill="#000000"/>
<line x1="517.8" y1="574.6" x2="585" y2="574.6" stroke="#000000" stroke-width="3.5" stroke-linecap="round"/>
<circle cx="551" cy="462.0" r="3.9" stroke="#ff0000" stroke-width="1.8" fill="#fff"/><circle cx="551" cy="462.0" r="1.25" fill="#ff0000"/>
<line x1="517.8" y1="612.1" x2="585" y2="612.1" stroke="#ff0000" stroke-width="3.5" stroke-linecap="round"/>
<circle cx="551" cy="499.5" r="3.9" stroke="#00ff00" stroke-width="1.8" fill="#fff"/><circle cx="551" cy="499.5" r="1.25" fill="#00ff00"/>
<line x1="517.8" y1="649.6" x2="585" y2="649.6" stroke="#00ff00" stroke-width="3.5" stroke-linecap="round"/>
<circle cx="551" cy="537.1" r="3.9" stroke="#0000ff" stroke-width="1.8" fill="#fff"/><circle cx="551" cy="537.1" r="1.25" fill="#0000ff"/>
<line x1="517.8" y1="687.1" x2="585" y2="687.1" stroke="#0000ff" stroke-width="3.5" stroke-linecap="round"/>
</svg>
</body></html>
